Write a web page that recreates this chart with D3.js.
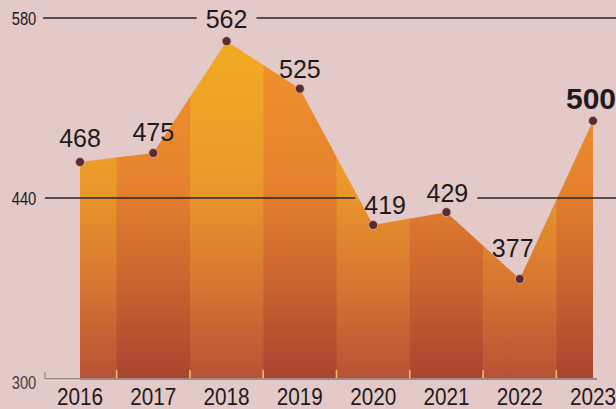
<!DOCTYPE html>
<html><head><meta charset="utf-8">
<script src="https://cdn.jsdelivr.net/npm/d3@7/dist/d3.min.js"></script>
<style>
html,body{margin:0;padding:0;background:#e3c9c7;}
svg{display:block;}
</style></head>
<body>
<svg id="chart" width="616" height="409"></svg>
<script>
const years = ["2016","2017","2018","2019","2020","2021","2022","2023"];
const values = [468, 475, 562, 525, 419, 429, 377, 500];
const yTicks = [300, 440, 580];
// label nudges (layout only)
const labelDx = [0, 0, 0, 0, 12, 1, -7, 0];
const labelDy = [-15, -12, -13, -11, -11, -10, -22, -12];

const W = 616, H = 409;
const svg = d3.select("#chart");
const x = d3.scalePoint().domain(years).range([80, 593]);
const y = d3.scaleLinear().domain([300, 580]).range([378, 18]);

svg.append("rect").attr("width", W).attr("height", H).attr("fill", "#e3c9c7");

const defs = svg.append("defs");
function grad(id, stops) {
  const g = defs.append("linearGradient").attr("id", id)
    .attr("gradientUnits", "userSpaceOnUse")
    .attr("x1", 0).attr("x2", 0).attr("y1", y(580)).attr("y2", y(300));
  stops.forEach(s => g.append("stop").attr("offset", s[0]).attr("stop-color", s[1]));
}
grad("gLight", [[0, "#f3ad22"], [0.45, "#eb9a2a"], [0.75, "#d67432"], [1, "#b85236"]]);
grad("gDark",  [[0, "#f0952a"], [0.45, "#e7832e"], [0.75, "#c9622f"], [1, "#a9442f"]]);

// band edges at midpoints between years
const xs = years.map(d => x(d));
const edges = [xs[0]];
for (let i = 1; i < xs.length; i++) edges.push((xs[i - 1] + xs[i]) / 2);
edges.push(xs[xs.length - 1] + 2);

const area = d3.area()
  .x((d, i) => x(years[i]))
  .y0(y(300))
  .y1(d => y(d))
  .curve(d3.curveLinear);

years.forEach((yr, i) => {
  const cid = "clip" + i;
  defs.append("clipPath").attr("id", cid)
    .append("rect").attr("x", edges[i]).attr("y", 0)
    .attr("width", edges[i + 1] - edges[i] + (i < years.length - 1 ? 0.5 : 0)).attr("height", H);
  svg.append("path").datum(values)
    .attr("d", area)
    .attr("fill", i % 2 === 0 ? "url(#gLight)" : "url(#gDark)")
    .attr("clip-path", `url(#${cid})`);
});

// mask for gridlines (gaps behind labels)
const mask = defs.append("mask").attr("id", "gridMask")
  .attr("maskUnits", "userSpaceOnUse").attr("x", 0).attr("y", 0).attr("width", W).attr("height", H);
mask.append("rect").attr("width", W).attr("height", H).attr("fill", "white");

// gridlines
const gridG = svg.append("g").attr("mask", "url(#gridMask)");
gridG.append("line").attr("x1", 43).attr("x2", W).attr("y1", y(580)).attr("y2", y(580))
  .attr("stroke", "#2e2424").attr("stroke-width", 1.6);
gridG.append("line").attr("x1", 45).attr("x2", W).attr("y1", y(440)).attr("y2", y(440))
  .attr("stroke", "#2e2424").attr("stroke-width", 1.6);

// bottom axis
svg.append("line").attr("x1", 45).attr("x2", xs[xs.length - 1] + 4).attr("y1", y(300) + 1).attr("y2", y(300) + 1)
  .attr("stroke", "#6b4a3e").attr("stroke-width", 1.2);
svg.append("line").attr("x1", 45).attr("x2", 45).attr("y1", y(300) + 1).attr("y2", y(300) - 6)
  .attr("stroke", "#8a7a74").attr("stroke-width", 1);
svg.append("line").attr("x1", 45).attr("x2", 80).attr("y1", y(300) + 2).attr("y2", y(300) + 2)
  .attr("stroke", "#f0e6e2").attr("stroke-width", 1);
svg.selectAll(".tk").data(edges.slice(1, -1)).enter().append("line")
  .attr("x1", d => d).attr("x2", d => d)
  .attr("y1", y(300)).attr("y2", y(300) - 8)
  .attr("stroke", "#ecc86a").attr("stroke-width", 1.5);

// y labels
svg.selectAll(".yl").data(yTicks).enter().append("text")
  .attr("transform", d => `translate(24,${y(d) + (d === 300 ? 4 : 0)}) scale(0.82,1)`)
  .attr("text-anchor", "middle").attr("dominant-baseline", "central")
  .attr("font-family", "'Liberation Sans Narrow','Liberation Sans',sans-serif")
  .attr("font-size", 18)
  .attr("fill", d => d === 300 ? "#4a4040" : "#1e1a1a")
  .text(d => d);

// x labels
svg.selectAll(".xl").data(years).enter().append("text")
  .attr("transform", d => `translate(${x(d)},405) scale(0.9,1)`)
  .attr("text-anchor", "middle")
  .attr("font-family", "'Liberation Sans Narrow','Liberation Sans',sans-serif")
  .attr("font-size", 23)
  .attr("fill", "#1e1a1a")
  .text(d => d);

// value labels
const last = values.length - 1;
const lab = svg.append("g");
const boxes = [];
values.forEach((v, i) => {
  const bold = i === last;
  const t = lab.append("text")
    .attr("x", bold ? 566 : x(years[i]) + labelDx[i])
    .attr("y", y(v) + labelDy[i])
    .attr("text-anchor", bold ? "start" : "middle")
    .attr("font-family", bold ? "'Liberation Sans',sans-serif" : "'Liberation Sans Narrow','Liberation Sans',sans-serif")
    .attr("font-weight", bold ? "bold" : "normal")
    .attr("font-size", bold ? 30 : 25)
    .attr("fill", "#1e1a1a")
    .text(v);
  const bb = t.node().getBBox();
  boxes.push(bb);
  mask.append("rect")
    .attr("x", bb.x - 9).attr("y", bb.y)
    .attr("width", bb.width + 18).attr("height", bb.height + 4)
    .attr("fill", "black");
});
// bridge gaps between close neighbouring labels
for (let i = 1; i < boxes.length; i++) {
  const a = boxes[i - 1], b = boxes[i];
  const gap = b.x - (a.x + a.width);
  const top = Math.max(a.y, b.y), bot = Math.min(a.y + a.height, b.y + b.height);
  if (gap < 40 && bot > top) {
    mask.append("rect").attr("x", a.x + a.width).attr("y", top)
      .attr("width", gap).attr("height", bot - top + 4).attr("fill", "black");
  }
}

// points
svg.selectAll(".pt").data(values).enter().append("circle")
  .attr("cx", (d, i) => x(years[i])).attr("cy", d => y(d))
  .attr("r", 4.5).attr("fill", "#5a2c32")
  .attr("stroke", "#d9b8b4").attr("stroke-width", 0.8);
</script>
</body></html>
